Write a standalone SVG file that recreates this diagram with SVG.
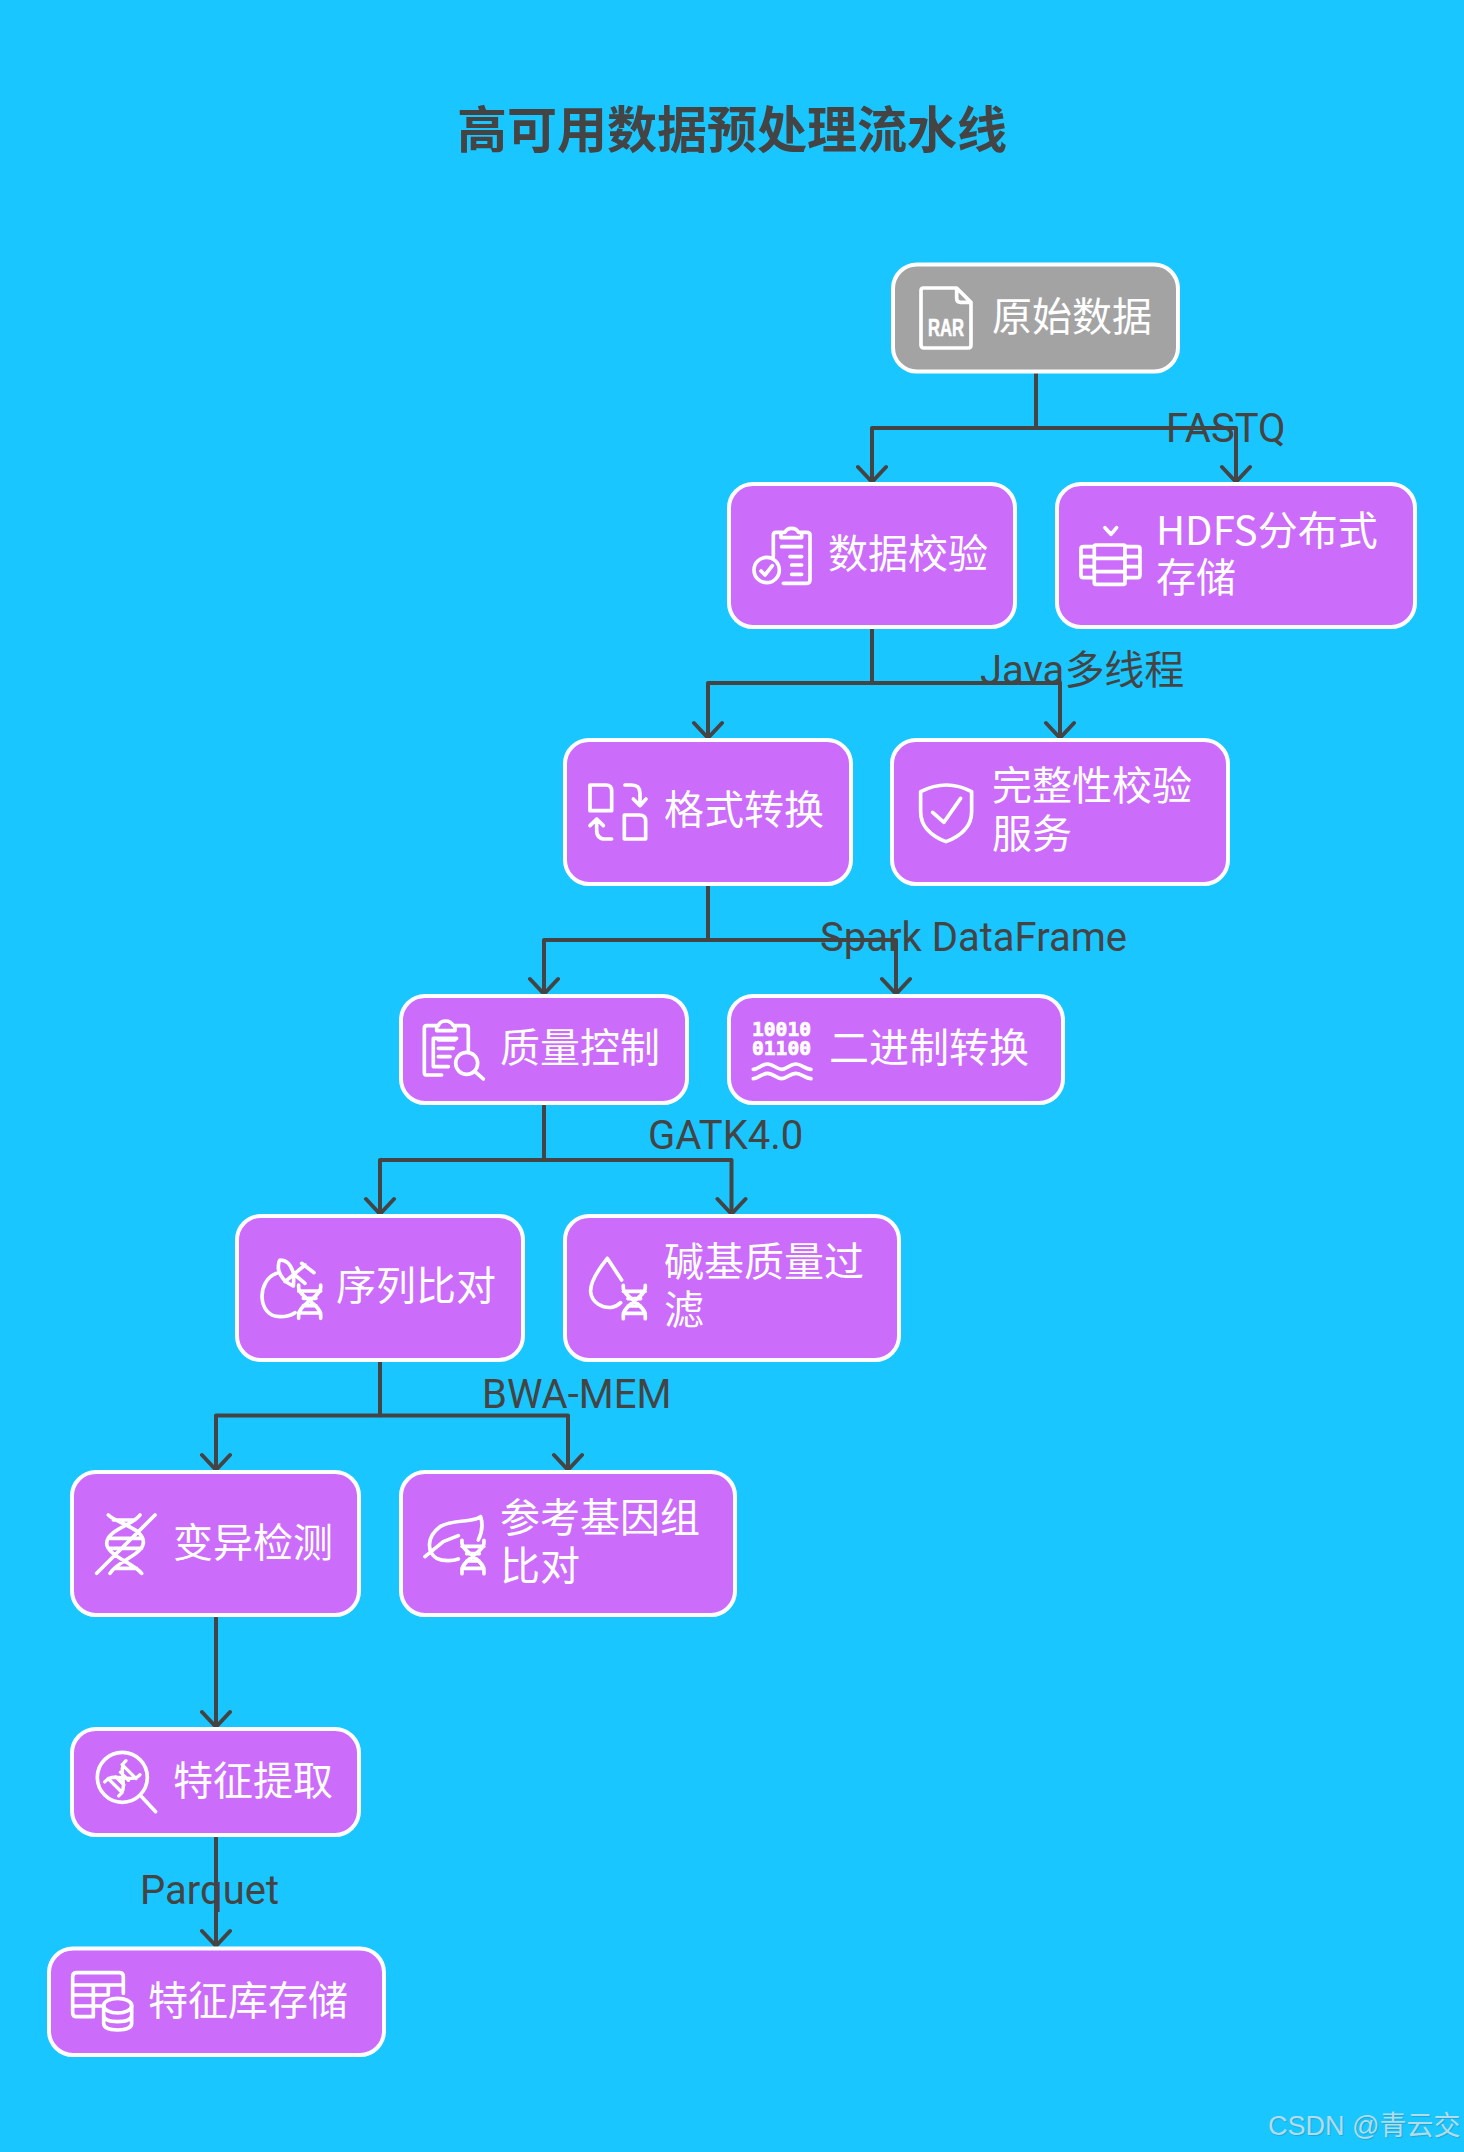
<svg xmlns="http://www.w3.org/2000/svg" width="1464" height="2152" viewBox="0 0 1464 2152">
<style>
.box{fill:#cc6cfa;stroke:#fff;stroke-width:4}
.gray{fill:#a3a3a3}
.t{font-family:"Noto Sans CJK SC",sans-serif;font-size:40px;fill:#fff}
.l{font-family:Roboto,"Noto Sans CJK SC",sans-serif;font-size:40px;fill:#444}
.ic{fill:none;stroke:#fff;stroke-width:11;stroke-linecap:round;stroke-linejoin:round}
.c{fill:none;stroke:#444;stroke-width:4;stroke-linejoin:round}
.ah{fill:none;stroke:#444;stroke-width:4;stroke-linecap:round;stroke-linejoin:round}
.bin{font-family:"DejaVu Sans Mono",monospace;font-weight:bold;font-size:19.5px;fill:#fff;stroke:#fff;stroke-width:.7}
</style>
<defs>
<g id="dna"><path d="M2 0V8C2 35 68 58 68 90V100M68 0V8C68 35 2 58 2 90V100M2 18H68M16 40H54M16 62H54M2 84H68"/></g>
</defs>
<rect width="1464" height="2152" fill="#1ac6ff"/>
<text id="title" x="732" y="147.500" text-anchor="middle" font-family="'Noto Sans CJK SC',sans-serif" font-weight="bold" font-size="50" fill="#444">高可用数据预处理流水线</text>
<g id="connectors">
<path class="c" d="M1036 372V428H872V480"/><path class="c" d="M1036 428H1236V480"/>
<path class="c" d="M872 629V683H708V736"/><path class="c" d="M872 683H1060V736"/>
<path class="c" d="M708 886V940H544V992"/><path class="c" d="M708 940H896V992"/>
<path class="c" d="M544 1105V1160H380V1212"/><path class="c" d="M544 1160H731.500V1212"/>
<path class="c" d="M380 1362V1415.500H216V1468"/><path class="c" d="M380 1415.500H568V1468"/>
<path class="c" d="M216 1617V1725"/><path class="c" d="M216 1837V1944"/>
<path class="ah" d="M858 467L872 482L886 467M1222 467L1236 482L1250 467M694 723L708 738L722 723M1046 723L1060 738L1074 723M530 979L544 994L558 979M882 979L896 994L910 979M366 1199L380 1214L394 1199M717.500 1199L731.500 1214L745.500 1199M202 1455L216 1470L230 1455M554 1455L568 1470L582 1455M202 1712L216 1727L230 1712M202 1931L216 1946L230 1931"/>
</g>
<g id="edge-labels">
<text class="l" x="1166" y="442">FASTQ</text>
<text class="l" x="980" y="684">Java多线程</text>
<text class="l" x="820" y="951">Spark DataFrame</text>
<text class="l" x="648" y="1149">GATK4.0</text>
<text class="l" x="482" y="1408">BWA-MEM</text>
<text class="l" x="140" y="1904">Parquet</text>
</g>
<g id="n1"><rect class="box gray" x="893" y="264.500" width="285" height="107" rx="24"/>
<g class="ic" transform="translate(915 280) scale(.3333)"><path d="M25 24H125L168 67V195Q168 204 160 204H27Q18 204 18 195V32Q18 24 25 24ZM125 24V55Q125 67 137 67H168"/></g>
<text x="928" y="336" font-family="'Liberation Sans',sans-serif" font-weight="bold" font-size="24" fill="#fff" stroke="#fff" stroke-width=".6" textLength="36" lengthAdjust="spacingAndGlyphs">RAR</text>
<text class="t" x="992" y="331">原始数据</text></g>
<g id="n2"><rect class="box" x="729" y="484" width="286" height="143" rx="24"/>
<g class="ic" transform="translate(745 515) scale(.3333)"><path d="M85 125V60Q85 52 93 52H120Q125 40 140 40Q155 40 160 52H185Q195 52 195 60V195Q195 205 185 205H115M108 52V68H170V52M110 95H170M135 125H170M140 150H170M140 178H170M48 168L60 180L82 152"/><circle cx="65" cy="165" r="38"/></g>
<text class="t" x="828" y="568">数据校验</text></g>
<g id="n3"><rect class="box" x="1057" y="484" width="358" height="143" rx="24"/>
<g class="ic" transform="translate(745 515) scale(.3333)"><path d="M1080 38L1098 58L1115 38M1048 95H1015Q1008 95 1008 102V180Q1008 188 1015 188H1048M1010 125H1048M1010 155H1048M1140 95H1178Q1185 95 1185 102V180Q1185 188 1178 188H1140M1140 125H1184M1140 155H1184M1048 130H1140M1048 170H1140"/><rect x="1048" y="90" width="92" height="118" rx="4"/></g>
<text class="t" x="1156" y="545">HDFS分布式</text><text class="t" x="1156" y="592">存储</text></g>
<g id="n4"><rect class="box" x="565" y="740" width="286" height="144" rx="24"/>
<g class="ic" transform="translate(580 775) scale(.3333)"><path d="M30 30H78Q95 30 95 48V107H30ZM133 120H178Q197 120 197 138V192H133ZM135 30H155Q180 30 180 55V90M160 72L180 92L198 72M95 192H75Q50 192 50 165V135M30 152L50 132L70 152"/></g>
<text class="t" x="664" y="824">格式转换</text></g>
<g id="n5"><rect class="box" x="892" y="740" width="336" height="144" rx="24"/>
<g class="ic" transform="translate(580 775) scale(.3333)"><path d="M1022 50Q1100 10 1175 50V110Q1175 170 1098 200Q1022 170 1022 110ZM1058 112L1092 142L1142 70"/></g>
<text class="t" x="992" y="800">完整性校验</text><text class="t" x="992" y="848">服务</text></g>
<g id="n6"><rect class="box" x="401" y="996" width="286" height="107" rx="24"/>
<g class="ic" transform="translate(415 1010) scale(.3333)"><path d="M80 195H35Q28 195 28 188V55Q28 47 35 47H70Q75 33 92 33Q108 33 115 47H150Q160 47 160 55V120M65 47V62H120V47M100 170H55V85H125M70 90H120M70 115H115M70 140H105M180 185L205 207"/><circle cx="155" cy="160" r="33"/></g>
<text class="t" x="500" y="1062">质量控制</text></g>
<g id="n7"><rect class="box" x="729" y="996" width="334" height="107" rx="24"/>
<text class="bin" x="752" y="1036" textLength="59" lengthAdjust="spacingAndGlyphs">10010</text><text class="bin" x="752" y="1055" textLength="59" lengthAdjust="spacingAndGlyphs">01100</text>
<g class="ic" transform="translate(415 1010) scale(.3333)"><path d="M1015 178C1030 178 1040 162 1058 162C1075 162 1085 178 1100 178C1115 178 1125 162 1143 162C1160 162 1170 178 1188 178M1015 206C1030 206 1040 190 1058 190C1075 190 1085 206 1100 206C1115 206 1125 190 1143 190C1160 190 1170 206 1188 206"/></g>
<text class="t" x="829" y="1062">二进制转换</text></g>
<g id="n8"><rect class="box" x="237" y="1216" width="286" height="144" rx="24"/>
<g class="ic" transform="translate(250 1250) scale(.3333)"><path d="M80 70C20 90 20 200 90 200C110 200 125 195 135 188M90 30Q120 30 130 70Q132 90 130 108Q90 90 85 55Q85 35 90 30ZM105 95L165 45M155 40L192 68M135 75L165 100"/><use href="#dna" x="144" y="105"/></g>
<text class="t" x="336" y="1300">序列比对</text></g>
<g id="n9"><rect class="box" x="565" y="1216" width="334" height="144" rx="24"/>
<g class="ic" transform="translate(250 1250) scale(.3333)"><path d="M1072 25Q1020 90 1022 125C1025 160 1060 175 1085 172Q1100 170 1112 158M1072 25L1115 90"/><use href="#dna" x="1118" y="106"/></g>
<text class="t" x="664" y="1276">碱基质量过</text><text class="t" x="664" y="1324">滤</text></g>
<g id="n10"><rect class="box" x="72" y="1472" width="287" height="143" rx="24"/>
<g class="ic" transform="translate(90 1505) scale(.3333)"><path d="M20 205L195 30M55 30C80 55 165 70 160 115C155 150 80 170 60 205M150 30C130 60 50 75 50 115C50 150 130 175 155 205M60 100H155M60 130H155M70 45H135M75 190H140"/></g>
<text class="t" x="173" y="1557">变异检测</text></g>
<g id="n11"><rect class="box" x="401" y="1472" width="334" height="143" rx="24"/>
<g class="ic" transform="translate(90 1505) scale(.3333)"><path d="M1172 35C1150 55 1090 40 1050 65C1010 95 1010 140 1040 160C1060 170 1090 168 1105 162M1172 35C1180 60 1175 85 1165 105M1005 155L1060 110L1105 92"/><use href="#dna" x="1114" y="106"/></g>
<text class="t" x="500" y="1532">参考基因组</text><text class="t" x="500" y="1580">比对</text></g>
<g id="n12"><rect class="box" x="72" y="1729" width="287" height="106" rx="24"/>
<g class="ic" transform="translate(60 1745) scale(.3333)"><circle cx="187" cy="97" r="75"/><path d="M245 155L287 200"/><use href="#dna" transform="translate(187 100) rotate(45) scale(.9) translate(-35 -50)"/></g>
<text class="t" x="173" y="1795">特征提取</text></g>
<g id="n13"><rect class="box" x="49" y="1948.500" width="335" height="106.500" rx="24"/>
<g class="ic" transform="translate(60 1745) scale(.3333)"><path d="M100 815H50Q38 815 38 803V695Q38 683 50 683H178Q190 683 190 695V745M38 720H190M38 750H145M38 783H125M100 720V815M145 720V745M131 782V835Q131 855 173 855Q215 855 215 835V782M131 810Q131 830 173 830Q215 830 215 810"/><ellipse cx="173" cy="782" rx="42" ry="22"/></g>
<text class="t" x="148" y="2015">特征库存储</text></g>
<text id="watermark" x="1268" y="2135" font-family="'Liberation Sans','Noto Sans CJK SC',sans-serif" font-size="27" fill="#b4dbe8" style="text-shadow:1px 1px 1px rgba(0,0,0,.15)">CSDN @青云交</text>
</svg>
